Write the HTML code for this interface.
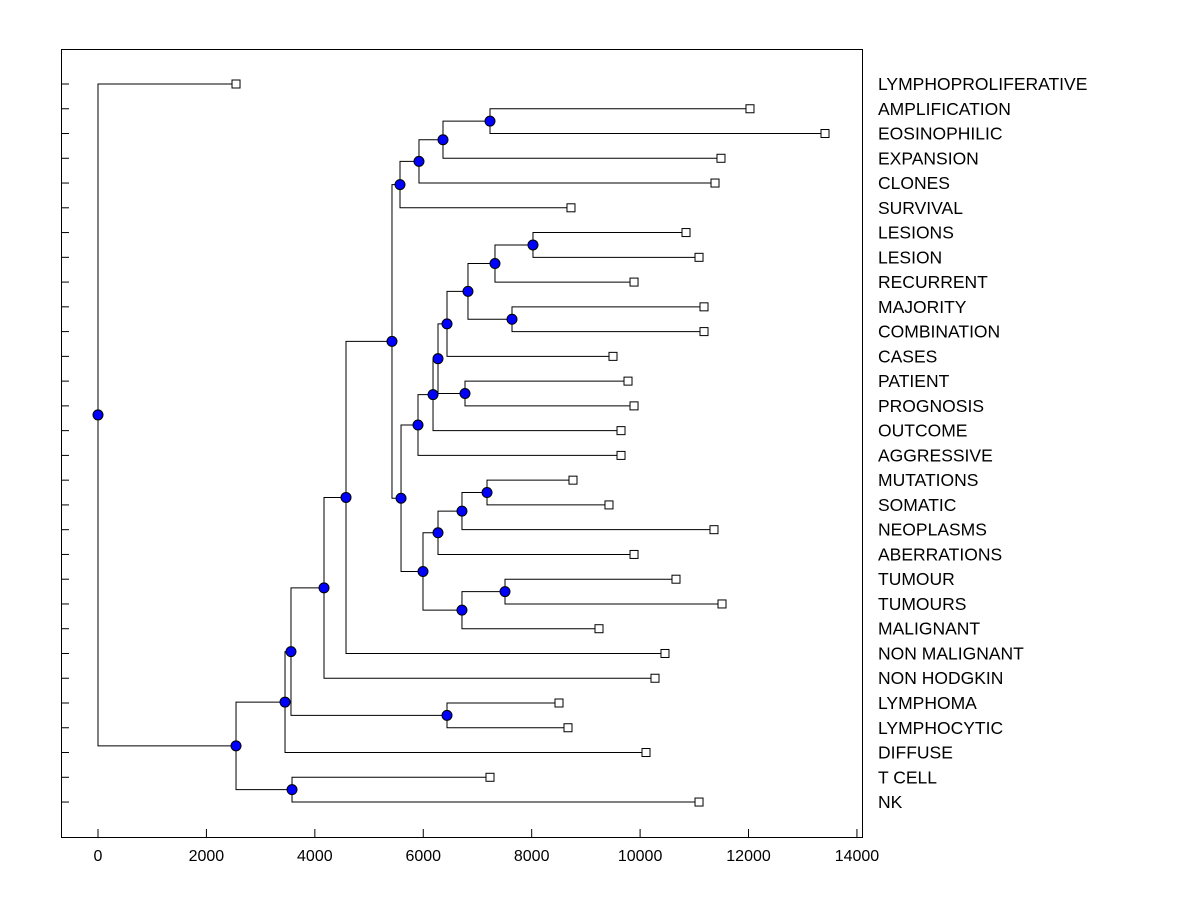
<!DOCTYPE html>
<html><head><meta charset="utf-8"><style>
body{margin:0;background:#fff;}
svg{display:block;font-family:"Liberation Sans",Arial,sans-serif;}
</style></head><body>
<svg id="chart" width="1200" height="900" xmlns="http://www.w3.org/2000/svg">
<rect x="61.5" y="49.5" width="801" height="788" fill="none" stroke="#000"/>
<g id="g"></g>
</svg>
<script>
const leafLabels=["LYMPHOPROLIFERATIVE","AMPLIFICATION","EOSINOPHILIC","EXPANSION","CLONES","SURVIVAL","LESIONS","LESION","RECURRENT","MAJORITY","COMBINATION","CASES","PATIENT","PROGNOSIS","OUTCOME","AGGRESSIVE","MUTATIONS","SOMATIC","NEOPLASMS","ABERRATIONS","TUMOUR","TUMOURS","MALIGNANT","NON MALIGNANT","NON HODGKIN","LYMPHOMA","LYMPHOCYTIC","DIFFUSE","T CELL","NK"];
const leafValues=[2546,12027,13411,11492,11382,8725,10847,11087,9888,11179,11179,9500,9777,9888,9648,9648,8762,9426,11363,9888,10662,11511,9242,10459,10275,8504,8670,10109,7231,11087];
// merges: [childA, childB, height]; leaves are "L<i>", nodes "N<i>"
const merges=[
["L1","L2",7231],["N0","L3",6364],["N1","L4",5921],["N2","L5",5571],
["L6","L7",8024],["N4","L8",7323],["L9","L10",7637],["N5","N6",6825],
["N7","L11",6438],["L12","L13",6770],["N8","N9",6272],["N10","L14",6180],
["N11","L15",5903],["L16","L17",7176],["N13","L18",6714],["N14","L19",6272],
["L20","L21",7508],["N16","L22",6714],["N15","N17",5995],["N12","N18",5590],
["N3","N19",5423],["N20","L23",4575],["N21","L24",4169],["L25","L26",6438],
["N22","N23",3560],["N24","L27",3450],["L28","L29",3579],["N25","N26",2546],
["L0","N27",0]];
const xTicks=[0,2000,4000,6000,8000,10000,12000,14000];

const X=v=>98+v*0.05421, Y=i=>84+i*24.76;
const g=document.getElementById('g'), NS="http://www.w3.org/2000/svg";
function mk(t,a){const e=document.createElementNS(NS,t);for(const k in a)e.setAttribute(k,a[k]);g.appendChild(e);return e;}
const pos={};
leafLabels.forEach((l,i)=>{pos["L"+i]={x:X(leafValues[i]),y:Y(i)};});
merges.forEach((m,i)=>{const a=pos[m[0]],b=pos[m[1]],x=X(m[2]);pos["N"+i]={x:x,y:(a.y+b.y)/2};});
leafLabels.forEach((l,i)=>{
 const t=mk('line',{x1:61,x2:69,y1:Y(i),y2:Y(i),stroke:'#000'});
 
 
 const tx=mk('text',{x:878,y:Y(i)+6,'font-size':17.5,fill:'#000'});tx.textContent=l;
 
 
});
xTicks.forEach(v=>{
 const t=mk('line',{x1:X(v),x2:X(v),y1:829,y2:837,stroke:'#000'});
 
 
 const tx=mk('text',{x:X(v),y:861,'font-size':16,'text-anchor':'middle'});tx.textContent=v;
 
 
});
merges.forEach((m,i)=>{
 const a=pos[m[0]],b=pos[m[1]],x=X(m[2]);
 const p=mk('path',{d:`M${a.x},${a.y}H${x}V${b.y}H${b.x}`,fill:'none',stroke:'#000','stroke-width':1});
 
 
});
leafLabels.forEach((l,i)=>{
 const r=mk('rect',{x:X(leafValues[i])-4,y:Y(i)-4,width:8,height:8,fill:'#fff',stroke:'#000'});
 
 
});
merges.forEach((m,i)=>{
 const p=pos["N"+i];
 const c=mk('circle',{cx:p.x,cy:p.y,r:5,fill:'#0000ff',stroke:'#000'});
 
 
});
</script>
</body></html>
